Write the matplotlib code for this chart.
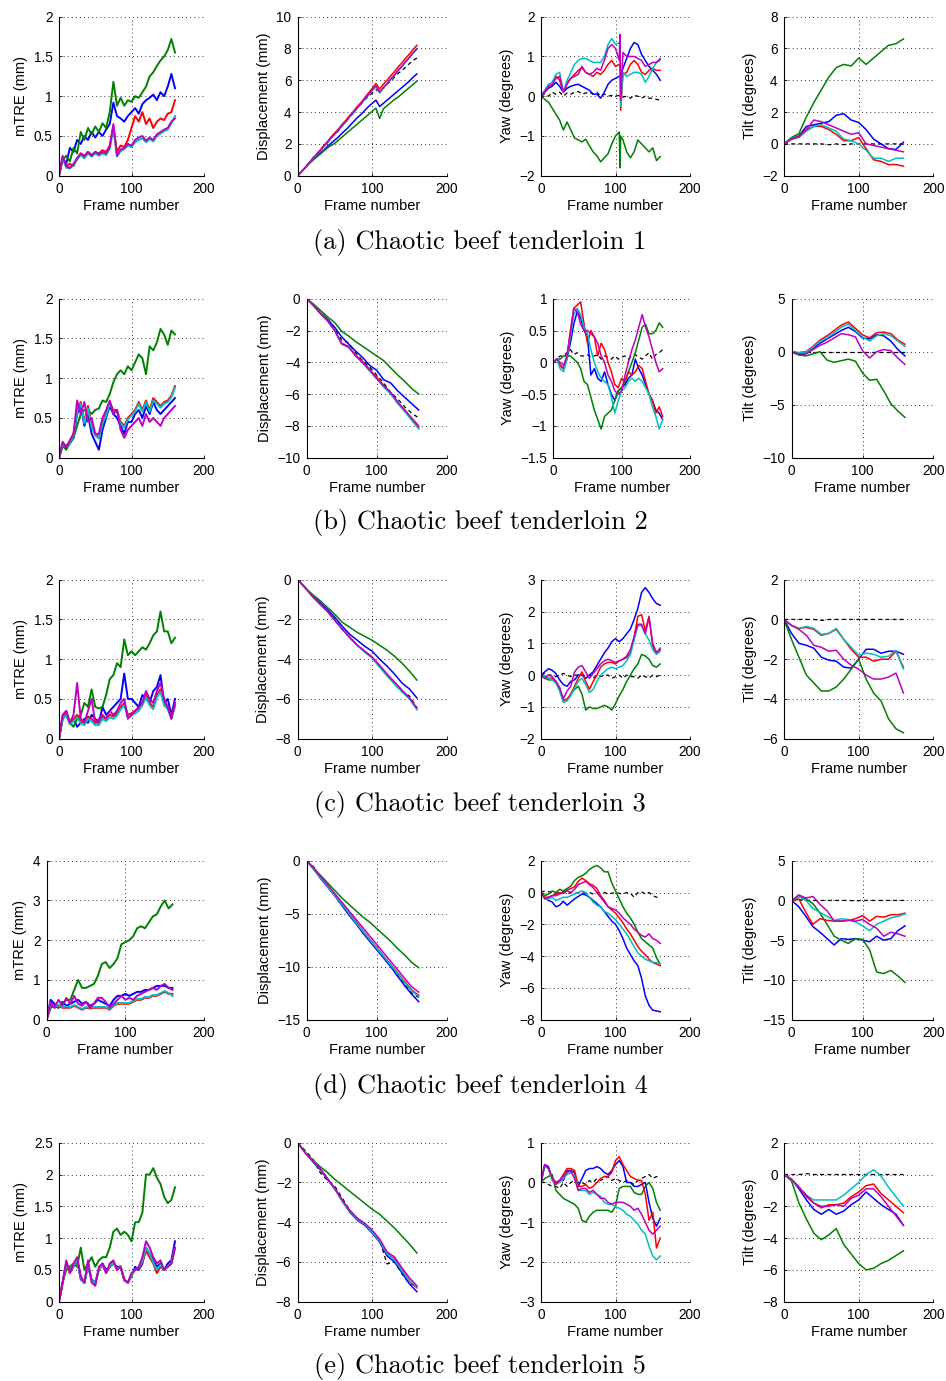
import matplotlib
matplotlib.use("Agg")
import matplotlib.pyplot as plt
from matplotlib.ticker import FuncFormatter, MultipleLocator

# ---------------------------------------------------------------- data
# Each series is sampled every 5 frames (33 values) or every 10 frames
# (17 values) over frames 0..160, unless a panel gives its own frame list.
# Keys: k = reference (dashed), b, g, r, c, m = the five trackers.

# ----- (a) tenderloin 1
MTRE_A = {
    "b": [0.0, 0.22, 0.15, 0.35, 0.30, 0.45, 0.40, 0.50, 0.45, 0.55, 0.48, 0.55, 0.50, 0.58, 0.65, 0.92, 0.75,
          0.72, 0.68, 0.75, 0.80, 0.85, 0.78, 0.90, 0.95, 0.98, 1.02, 0.95, 1.05, 1.00, 1.12, 1.28, 1.10],
    "g": [0.0, 0.20, 0.25, 0.18, 0.35, 0.28, 0.55, 0.45, 0.60, 0.52, 0.62, 0.55, 0.66, 0.60, 0.80, 1.18, 0.88,
          0.98, 0.88, 0.95, 0.93, 1.00, 0.98, 1.05, 1.12, 1.25, 1.30, 1.38, 1.45, 1.50, 1.58, 1.72, 1.55],
    "r": [0.0, 0.22, 0.12, 0.15, 0.12, 0.22, 0.28, 0.25, 0.30, 0.26, 0.30, 0.28, 0.32, 0.30, 0.38, 0.62, 0.30,
          0.38, 0.36, 0.45, 0.60, 0.75, 0.68, 0.80, 0.65, 0.72, 0.60, 0.68, 0.72, 0.70, 0.78, 0.80, 0.95],
    "c": [0.0, 0.23, 0.10, 0.09, 0.13, 0.20, 0.26, 0.22, 0.28, 0.24, 0.28, 0.25, 0.28, 0.26, 0.34, 0.60, 0.24,
          0.31, 0.33, 0.38, 0.36, 0.42, 0.45, 0.47, 0.42, 0.46, 0.43, 0.50, 0.53, 0.56, 0.58, 0.66, 0.75],
    "m": [0.0, 0.25, 0.12, 0.10, 0.15, 0.22, 0.28, 0.24, 0.30, 0.25, 0.30, 0.27, 0.30, 0.28, 0.36, 0.65, 0.25,
          0.33, 0.35, 0.40, 0.38, 0.45, 0.48, 0.50, 0.44, 0.48, 0.45, 0.52, 0.55, 0.58, 0.60, 0.68, 0.72],
}
DISP_A = {
    "k": [0, 0.25, 0.55, 0.8, 1.1, 1.35, 1.6, 1.85, 2.1, 2.4, 2.6, 2.85, 3.15, 3.4, 3.7, 3.95, 4.25,
          4.5, 4.75, 5.0, 5.2, 5.4, 5.3, 5.5, 5.75, 5.95, 6.2, 6.45, 6.6, 6.85, 7.05, 7.25, 7.4],
    "b": [0, 0.25, 0.5, 0.75, 1.0, 1.2, 1.4, 1.6, 1.85, 2.05, 2.25, 2.45, 2.7, 2.9, 3.15, 3.4, 3.65,
          3.85, 4.1, 4.35, 4.55, 4.75, 4.35, 4.55, 4.75, 4.95, 5.15, 5.35, 5.55, 5.75, 5.95, 6.2, 6.4],
    "g": [0, 0.25, 0.5, 0.75, 0.95, 1.15, 1.35, 1.55, 1.75, 1.9, 2.05, 2.25, 2.45, 2.65, 2.85, 3.05, 3.25,
          3.45, 3.65, 3.85, 4.05, 4.25, 3.6, 4.2, 4.4, 4.6, 4.8, 4.95, 5.15, 5.35, 5.55, 5.75, 5.95],
    "r": [0, 0.25, 0.5, 0.8, 1.05, 1.35, 1.6, 1.9, 2.15, 2.45, 2.7, 2.95, 3.25, 3.5, 3.8, 4.05, 4.35,
          4.6, 4.9, 5.2, 5.5, 5.8, 5.45, 5.75, 6.0, 6.3, 6.55, 6.85, 7.1, 7.4, 7.65, 7.95, 8.2],
    "c": [0, 0.25, 0.5, 0.78, 1.03, 1.28, 1.53, 1.82, 2.07, 2.37, 2.6, 2.86, 3.15, 3.4, 3.7, 3.95, 4.25,
          4.5, 4.8, 5.05, 5.35, 5.6, 5.2, 5.5, 5.75, 6.05, 6.3, 6.6, 6.85, 7.15, 7.4, 7.7, 7.95],
    "m": [0, 0.25, 0.5, 0.8, 1.05, 1.3, 1.55, 1.85, 2.1, 2.4, 2.65, 2.9, 3.2, 3.45, 3.75, 4.0, 4.3,
          4.55, 4.85, 5.1, 5.4, 5.65, 5.25, 5.55, 5.8, 6.1, 6.35, 6.65, 6.9, 7.2, 7.45, 7.75, 8.0],
}
YAW_A_FRAMES = [0, 5, 10, 15, 20, 25, 30, 35, 40, 45, 50, 55, 60, 65, 70, 75, 80, 85, 90, 95, 100, 105,
                106, 107, 110, 115, 120, 125, 130, 135, 140, 145, 150, 155, 160]
YAW_A = {
    "k": [0, 0.05, 0.0, 0.1, 0.05, 0.1, 0.0, 0.08, 0.05, 0.1, 0.12, 0.05, 0.08, 0.1, 0.05, 0.1, 0.0, 0.05,
          0.0, 0.02, 0.0, 0.02, 0.02, 0.0, -0.02, 0.0, -0.05, 0.02, 0.0, -0.05, 0.0, -0.05, -0.05, -0.08, -0.1],
    "b": [0, 0.1, 0.2, 0.25, 0.35, 0.25, 0.1, 0.2, 0.25, 0.28, 0.3, 0.25, 0.2, 0.15, 0.05, 0.05, -0.05, 0.1,
          0.3, 0.4, 0.45, 0.5, 0.5, 0.5, 0.7, 0.95, 1.2, 1.35, 1.3, 1.05, 0.9, 0.75, 0.65, 0.55, 0.4],
    "g": [0, -0.08, -0.15, -0.3, -0.45, -0.6, -0.85, -0.65, -0.85, -1.05, -1.1, -1.15, -1.08, -1.25, -1.4,
          -1.5, -1.65, -1.55, -1.45, -1.2, -1.0, -0.9, -1.8, -1.0, -1.1, -1.4, -1.55, -1.4, -1.1, -1.2, -1.3,
          -1.4, -1.3, -1.62, -1.52],
    "r": [0, 0.1, 0.25, 0.3, 0.5, 0.4, 0.1, 0.35, 0.45, 0.55, 0.65, 0.72, 0.6, 0.55, 0.5, 0.6, 0.55, 0.65,
          0.8, 0.9, 0.75, 0.8, 0.8, -0.35, 0.55, 0.6, 0.8, 0.9, 0.8, 0.6, 0.55, 0.65, 0.7, 0.65, 0.65],
    "c": [0, 0.15, 0.3, 0.35, 0.55, 0.6, 0.1, 0.4, 0.6, 0.8, 0.9, 0.95, 0.95, 0.9, 0.85, 0.85, 0.85, 1.0,
          1.3, 1.45, 1.3, 1.35, 1.35, -0.25, 0.6, 0.5, 0.55, 0.6, 0.6, 0.55, 0.35, 0.5, 0.7, 0.85, 0.9],
    "m": [0, 0.12, 0.25, 0.3, 0.45, 0.5, 0.1, 0.3, 0.45, 0.5, 0.55, 0.75, 0.6, 0.55, 0.6, 0.7, 0.65, 0.9,
          1.2, 1.3, 1.2, 0.9, 1.55, -0.1, 1.1, 1.0, 1.0, 1.0, 0.95, 0.9, 0.75, 0.8, 0.85, 0.85, 0.95],
}
TILT_A = {
    "k": [0, 0, 0, 0, 0, 0, -0.05, 0, -0.05, 0, 0, 0, 0, 0, 0, 0, 0],
    "b": [0, 0.3, 0.5, 1.1, 1.2, 1.3, 1.4, 1.8, 1.9, 1.5, 1.35, 0.9, 0.3, 0.0, -0.3, -0.35, 0.1],
    "g": [0, 0.4, 0.65, 1.7, 2.6, 3.4, 4.2, 4.8, 5.0, 4.9, 5.4, 5.0, 5.4, 5.8, 6.2, 6.3, 6.6],
    "r": [0, 0.3, 0.5, 0.9, 1.1, 1.1, 0.9, 0.6, 0.2, 0.2, 0.4, -0.3, -1.0, -1.1, -1.3, -1.3, -1.4],
    "c": [0, 0.3, 0.4, 0.8, 1.1, 1.2, 1.0, 0.8, 0.3, 0.2, 0.0, -0.4, -0.9, -0.9, -1.1, -0.9, -0.9],
    "m": [0, 0.3, 0.45, 0.9, 1.5, 1.4, 1.2, 1.0, 0.8, 0.6, 0.7, 0.0, -0.1, -0.2, -0.3, -0.4, -0.5],
}

# ----- (b) tenderloin 2
MTRE_B = {
    "b": [0, 0.15, 0.12, 0.18, 0.25, 0.55, 0.65, 0.4, 0.55, 0.3, 0.2, 0.1, 0.35, 0.5, 0.65, 0.55, 0.5,
          0.4, 0.3, 0.45, 0.45, 0.55, 0.6, 0.5, 0.65, 0.55, 0.7, 0.6, 0.55, 0.6, 0.65, 0.7, 0.75],
    "g": [0, 0.15, 0.1, 0.2, 0.25, 0.4, 0.55, 0.6, 0.6, 0.55, 0.6, 0.62, 0.72, 0.7, 0.8, 0.95, 1.05,
          1.1, 1.05, 1.15, 1.1, 1.2, 1.3, 1.25, 1.05, 1.4, 1.35, 1.45, 1.62, 1.55, 1.42, 1.6, 1.55],
    "r": [0, 0.18, 0.15, 0.2, 0.3, 0.6, 0.7, 0.45, 0.65, 0.4, 0.3, 0.25, 0.45, 0.55, 0.7, 0.6, 0.6,
          0.45, 0.4, 0.5, 0.55, 0.6, 0.7, 0.6, 0.72, 0.6, 0.75, 0.7, 0.65, 0.7, 0.72, 0.78, 0.9],
    "c": [0, 0.17, 0.14, 0.19, 0.28, 0.58, 0.68, 0.43, 0.62, 0.38, 0.28, 0.24, 0.43, 0.53, 0.68, 0.58, 0.58,
          0.43, 0.38, 0.48, 0.53, 0.58, 0.68, 0.58, 0.7, 0.58, 0.72, 0.68, 0.63, 0.68, 0.7, 0.76, 0.88],
    "m": [0, 0.2, 0.13, 0.22, 0.3, 0.72, 0.55, 0.7, 0.45, 0.5, 0.3, 0.3, 0.5, 0.6, 0.72, 0.55, 0.6,
          0.35, 0.25, 0.35, 0.4, 0.45, 0.5, 0.4, 0.55, 0.45, 0.5, 0.45, 0.4, 0.5, 0.55, 0.6, 0.65],
}
DISP_B = {
    "k": [0, -0.4, -0.9, -1.3, -1.9, -2.6, -2.8, -3.4, -3.9, -4.3, -4.8, -5.3, -5.9, -6.3, -6.8, -7.2, -7.5],
    "b": [0, -0.4, -0.9, -1.3, -1.8, -2.4, -2.85, -3.3, -3.7, -4.2, -4.5, -5.1, -5.3, -5.8, -6.2, -6.6, -7.0],
    "g": [0, -0.35, -0.75, -1.15, -1.5, -2.05, -2.35, -2.7, -3.0, -3.3, -3.6, -3.9, -4.35, -4.8, -5.2, -5.65, -6.0],
    "r": [0, -0.45, -0.95, -1.4, -2.0, -2.8, -3.0, -3.55, -3.95, -4.45, -4.95, -5.45, -5.9, -6.5, -7.0, -7.55, -8.1],
    "c": [0, -0.45, -0.95, -1.4, -2.0, -2.85, -3.05, -3.6, -4.05, -4.55, -5.05, -5.55, -6.0, -6.6, -7.1, -7.65, -8.2],
    "m": [0, -0.45, -0.95, -1.4, -2.0, -2.85, -3.05, -3.6, -4.0, -4.5, -5.0, -5.5, -5.9, -6.5, -7.0, -7.5, -8.0],
}
YAW_B = {
    "k": [0, 0.05, 0.1, 0.1, 0.15, 0.2, 0.12, 0.15, 0.1, 0.1, 0.12, 0.08, 0.1, 0.12, 0.05, 0.1, 0.08,
          0.05, 0.1, 0.05, 0.08, 0.1, 0.05, 0.1, 0.12, 0.08, 0.05, 0.1, 0.15, 0.05, 0.12, 0.15, 0.2],
    "b": [0, 0.05, -0.05, -0.1, 0.05, 0.3, 0.6, 0.8, 0.7, 0.5, 0.4, -0.2, -0.1, -0.25, -0.3, -0.15, -0.35,
          -0.5, -0.6, -0.45, -0.4, -0.35, -0.25, -0.2, 0.05, -0.1, -0.2, -0.35, -0.5, -0.6, -0.75, -0.8, -0.9],
    "g": [0, 0.05, 0.05, 0.1, 0.1, 0.1, 0.05, 0.0, -0.1, -0.3, -0.35, -0.55, -0.75, -0.9, -1.05, -0.85, -0.8,
          -0.75, -0.6, -0.45, -0.4, -0.3, -0.15, 0.0, 0.15, 0.35, 0.55, 0.6, 0.45, 0.45, 0.5, 0.62, 0.55],
    "r": [0, 0.05, -0.05, -0.1, 0.1, 0.5, 0.85, 0.9, 0.95, 0.6, 0.3, 0.5, 0.4, 0.1, 0.3, 0.2, 0.0,
          -0.15, -0.35, -0.4, -0.25, -0.3, -0.15, -0.2, -0.15, -0.05, -0.1, -0.3, -0.5, -0.6, -0.8, -0.7, -0.85],
    "c": [0, 0.05, -0.1, -0.15, 0.05, 0.4, 0.75, 0.85, 0.75, 0.55, 0.45, 0.2, 0.0, -0.15, -0.25, -0.3, -0.35,
          -0.55, -0.8, -0.6, -0.45, -0.4, -0.3, -0.25, -0.3, -0.25, -0.3, -0.4, -0.5, -0.7, -0.85, -1.05, -0.9],
    "m": [0, 0.05, 0.0, -0.05, 0.1, 0.45, 0.85, 0.8, 0.6, 0.5, 0.5, 0.45, 0.4, 0.3, 0.1, 0.0, -0.2,
          -0.3, -0.45, -0.5, -0.45, -0.2, 0.0, 0.2, 0.35, 0.55, 0.75, 0.55, 0.4, 0.2, 0.0, -0.15, -0.1],
}
TILT_B = {
    "k": [0, 0, 0, 0, 0, 0, 0, 0, 0, 0, 0, 0, 0, 0, 0, 0, 0],
    "b": [0, -0.3, -0.2, 0.3, 0.8, 1.2, 1.6, 2.0, 2.3, 1.9, 1.3, 1.2, 1.6, 1.5, 1.0, 0.2, -0.4],
    "g": [0, -0.3, -0.4, -0.2, 0.0, -0.8, -1.0, -0.85, -0.7, -0.9, -2.0, -2.7, -2.6, -3.7, -4.9, -5.6, -6.2],
    "r": [0, -0.1, 0.0, 0.5, 1.1, 1.5, 2.0, 2.5, 2.8, 2.2, 1.6, 1.3, 1.8, 1.85, 1.7, 1.1, 0.7],
    "c": [0, -0.1, -0.05, 0.4, 1.0, 1.3, 1.8, 2.3, 2.6, 2.0, 1.4, 1.0, 1.5, 1.7, 1.5, 1.0, 0.5],
    "m": [0, -0.2, -0.2, 0.2, 0.6, 0.9, 1.3, 1.7, 1.6, 1.4, 0.1, -0.6, 0.0, 0.2, 0.1, -0.6, -1.2],
}

# ----- (c) tenderloin 3
MTRE_C = {
    "b": [0, 0.25, 0.3, 0.2, 0.25, 0.15, 0.2, 0.25, 0.2, 0.3, 0.25, 0.2, 0.4, 0.3, 0.35, 0.4, 0.45,
          0.5, 0.82, 0.5, 0.5, 0.45, 0.4, 0.55, 0.5, 0.45, 0.6, 0.65, 0.8, 0.45, 0.5, 0.3, 0.5],
    "g": [0, 0.25, 0.35, 0.2, 0.15, 0.25, 0.3, 0.45, 0.4, 0.62, 0.4, 0.38, 0.4, 0.55, 0.75, 0.8, 0.95,
          0.9, 1.25, 1.05, 1.1, 1.05, 1.1, 1.15, 1.12, 1.2, 1.3, 1.35, 1.6, 1.35, 1.35, 1.2, 1.27],
    "r": [0, 0.28, 0.32, 0.2, 0.25, 0.3, 0.22, 0.2, 0.28, 0.25, 0.2, 0.2, 0.28, 0.25, 0.3, 0.28, 0.32,
          0.4, 0.45, 0.3, 0.32, 0.35, 0.38, 0.45, 0.55, 0.45, 0.4, 0.55, 0.62, 0.45, 0.4, 0.28, 0.42],
    "c": [0, 0.26, 0.3, 0.18, 0.22, 0.27, 0.19, 0.17, 0.25, 0.22, 0.17, 0.17, 0.25, 0.22, 0.27, 0.25, 0.29,
          0.37, 0.42, 0.27, 0.29, 0.32, 0.35, 0.42, 0.52, 0.42, 0.37, 0.52, 0.59, 0.42, 0.37, 0.25, 0.4],
    "m": [0, 0.3, 0.35, 0.2, 0.3, 0.7, 0.25, 0.2, 0.35, 0.5, 0.2, 0.25, 0.3, 0.25, 0.35, 0.3, 0.35,
          0.45, 0.5, 0.25, 0.3, 0.35, 0.4, 0.45, 0.6, 0.5, 0.45, 0.6, 0.7, 0.5, 0.4, 0.25, 0.45],
}
DISP_C = {
    "k": [0, -0.4, -0.85, -1.2, -1.55, -2.0, -2.5, -2.9, -3.3, -3.6, -3.95, -4.4, -4.8, -5.25, -5.65, -5.85, -6.45],
    "b": [0, -0.4, -0.8, -1.15, -1.5, -1.9, -2.35, -2.75, -3.05, -3.35, -3.6, -4.0, -4.35, -4.75, -5.2, -5.5, -5.95],
    "g": [0, -0.4, -0.75, -1.05, -1.4, -1.75, -2.15, -2.4, -2.65, -2.85, -3.05, -3.3, -3.55, -3.85, -4.2, -4.6, -5.05],
    "r": [0, -0.4, -0.85, -1.25, -1.6, -2.05, -2.5, -2.9, -3.3, -3.6, -3.9, -4.35, -4.8, -5.2, -5.6, -5.95, -6.5],
    "c": [0, -0.4, -0.85, -1.25, -1.6, -2.05, -2.5, -2.95, -3.3, -3.65, -3.95, -4.4, -4.85, -5.25, -5.65, -6.0, -6.55],
    "m": [0, -0.4, -0.85, -1.2, -1.6, -2.05, -2.5, -2.9, -3.3, -3.6, -3.9, -4.3, -4.75, -5.15, -5.55, -5.95, -6.45],
}
YAW_C = {
    "k": [0, 0.05, 0.0, 0.0, -0.05, 0.0, 0.05, 0.0, -0.05, 0.0, 0.0, 0.05, -0.05, 0.0, -0.1, 0.0, -0.05,
          0.0, 0.0, -0.1, -0.05, 0.0, -0.1, 0.0, -0.05, -0.05, -0.1, 0.0, -0.05, -0.1, 0.0, -0.05, 0.0],
    "b": [0, 0.1, 0.2, 0.15, 0.05, -0.15, -0.3, -0.35, -0.2, -0.15, 0.0, 0.0, -0.1, 0.0, 0.1, 0.3, 0.5,
          0.7, 0.85, 1.05, 1.15, 1.05, 1.15, 1.3, 1.45, 1.75, 2.1, 2.6, 2.75, 2.6, 2.4, 2.25, 2.2],
    "g": [0, -0.1, -0.15, -0.15, -0.2, -0.4, -0.85, -0.8, -0.6, -0.45, -0.35, -0.6, -1.1, -1.0, -1.05, -1.05,
          -1.0, -0.95, -1.0, -1.1, -0.9, -0.65, -0.45, -0.2, 0.0, 0.2, 0.35, 0.65, 0.6, 0.5, 0.3, 0.25, 0.35],
    "r": [0, -0.05, -0.1, -0.1, -0.2, -0.45, -0.8, -0.75, -0.6, -0.35, -0.1, 0.1, -0.2, -0.45, -0.2, 0.0,
          0.25, 0.35, 0.4, 0.4, 0.35, 0.45, 0.5, 0.55, 0.7, 1.2, 1.85, 1.9, 1.4, 1.85, 0.9, 0.7, 0.8],
    "c": [0, -0.05, -0.1, -0.15, -0.25, -0.5, -0.85, -0.8, -0.65, -0.4, -0.2, -0.1, -0.3, -0.55, -0.45, -0.2,
          0.0, 0.1, 0.2, 0.25, 0.2, 0.25, 0.3, 0.45, 0.65, 1.1, 1.55, 1.55, 1.3, 1.1, 0.8, 0.65, 0.75],
    "m": [0, -0.1, 0.0, -0.05, -0.2, -0.4, -0.75, -0.5, -0.35, 0.1, 0.25, 0.3, 0.1, -0.1, 0.05, 0.2, 0.35,
          0.45, 0.5, 0.45, 0.4, 0.45, 0.5, 0.6, 0.8, 1.2, 1.6, 1.6, 1.3, 1.8, 1.0, 0.7, 0.85],
}
TILT_C = {
    "k": [0, 0, 0, 0, 0, -0.05, 0, 0, 0, 0, 0, 0, 0, 0, 0, 0, 0],
    "b": [0, -0.7, -1.2, -1.3, -1.45, -1.9, -2.05, -2.1, -2.4, -2.45, -2.0, -1.5, -1.5, -1.7, -1.6, -1.6, -1.75],
    "g": [0, -1.0, -1.9, -2.8, -3.2, -3.6, -3.6, -3.4, -3.0, -2.5, -2.0, -3.0, -3.7, -4.1, -5.0, -5.5, -5.7],
    "r": [0, -0.3, -0.45, -0.4, -0.5, -0.8, -0.7, -0.5, -1.0, -1.5, -1.9, -1.9, -2.1, -2.0, -2.0, -1.6, -2.4],
    "c": [0, -0.3, -0.45, -0.35, -0.45, -0.75, -0.7, -0.45, -1.0, -1.4, -1.8, -1.7, -1.75, -1.9, -1.85, -1.55, -2.5],
    "m": [0, -0.3, -0.5, -0.8, -1.3, -1.4, -1.6, -1.55, -2.0, -2.3, -2.5, -2.8, -3.0, -3.0, -2.9, -2.7, -3.7],
}

# ----- (d) tenderloin 4
MTRE_D = {
    "b": [0, 0.5, 0.4, 0.3, 0.45, 0.35, 0.4, 0.45, 0.5, 0.4, 0.45, 0.35, 0.4, 0.5, 0.45, 0.4, 0.35,
          0.5, 0.6, 0.6, 0.65, 0.6, 0.65, 0.7, 0.7, 0.75, 0.75, 0.8, 0.85, 0.85, 0.85, 0.8, 0.8],
    "g": [0, 0.3, 0.35, 0.3, 0.4, 0.5, 0.5, 0.75, 1.0, 0.8, 0.8, 0.85, 0.9, 1.1, 1.4, 1.45, 1.3,
          1.4, 1.55, 1.9, 1.95, 2.0, 2.1, 2.3, 2.35, 2.3, 2.45, 2.6, 2.65, 2.85, 3.0, 2.8, 2.9],
    "r": [0, 0.4, 0.3, 0.35, 0.3, 0.3, 0.3, 0.35, 0.3, 0.25, 0.3, 0.28, 0.3, 0.3, 0.3, 0.3, 0.25,
          0.35, 0.4, 0.4, 0.4, 0.4, 0.45, 0.5, 0.5, 0.55, 0.55, 0.6, 0.6, 0.65, 0.7, 0.65, 0.65],
    "c": [0, 0.42, 0.32, 0.37, 0.32, 0.33, 0.32, 0.37, 0.32, 0.27, 0.32, 0.3, 0.32, 0.32, 0.32, 0.32, 0.27,
          0.37, 0.42, 0.42, 0.42, 0.42, 0.47, 0.52, 0.52, 0.57, 0.57, 0.62, 0.62, 0.67, 0.72, 0.67, 0.6],
    "m": [0, 0.45, 0.3, 0.5, 0.35, 0.55, 0.4, 0.6, 0.4, 0.35, 0.45, 0.3, 0.4, 0.55, 0.55, 0.45, 0.3,
          0.4, 0.5, 0.6, 0.5, 0.55, 0.5, 0.6, 0.65, 0.7, 0.75, 0.8, 0.75, 0.85, 0.9, 0.8, 0.75],
}
DISP_D = {
    "k": [0, -0.6, -1.6, -2.4, -3.2, -4.1, -5.0, -5.8, -6.7, -7.5, -8.3, -9.1, -9.9, -10.8, -11.6, -12.5, -12.9],
    "b": [0, -0.8, -1.7, -2.5, -3.3, -4.2, -5.1, -5.9, -6.8, -7.6, -8.4, -9.2, -10.0, -10.9, -11.8, -12.6, -13.3],
    "g": [0, -0.7, -1.4, -2.1, -2.8, -3.5, -4.1, -4.7, -5.3, -5.8, -6.4, -7.0, -7.6, -8.3, -8.9, -9.6, -10.1],
    "r": [0, -0.8, -1.6, -2.4, -3.2, -4.0, -4.9, -5.7, -6.6, -7.4, -8.2, -9.0, -9.8, -10.6, -11.4, -12.2, -12.7],
    "c": [0, -0.8, -1.65, -2.45, -3.25, -4.1, -4.95, -5.8, -6.65, -7.45, -8.25, -9.05, -9.85, -10.65, -11.5, -12.3, -12.8],
    "m": [0, -0.7, -1.5, -2.3, -3.1, -3.9, -4.7, -5.5, -6.3, -7.1, -7.9, -8.7, -9.5, -10.3, -11.1, -11.9, -12.4],
}
YAW_D = {
    "k": [0, 0.1, 0.05, 0.0, -0.05, 0.0, 0.05, -0.1, 0.0, -0.05, 0.0, 0.0, -0.05, 0.0, -0.1, 0.0, -0.05,
          0.0, -0.1, -0.05, 0.0, -0.05, -0.1, 0.0, -0.05, -0.3, 0.0, 0.05, -0.1, 0.0, -0.2, -0.3, -0.2],
    "b": [0, -0.3, -0.5, -0.6, -0.9, -0.8, -0.55, -0.8, -0.6, -0.4, -0.25, -0.1, -0.15, -0.3, -0.5, -0.7, -0.9,
          -1.2, -1.5, -1.8, -2.0, -2.4, -2.9, -3.5, -3.9, -4.3, -4.6, -5.4, -6.5, -7.1, -7.4, -7.45, -7.5],
    "g": [0, -0.2, -0.1, 0.1, 0.0, 0.2, 0.1, 0.25, 0.4, 0.75, 0.95, 1.05, 1.2, 1.45, 1.6, 1.7, 1.55,
          1.3, 1.3, 0.6, 0.1, -0.4, -0.9, -1.3, -1.6, -2.0, -2.5, -2.9, -3.1, -3.3, -3.5, -4.1, -4.5],
    "r": [0, -0.3, -0.3, -0.2, -0.1, 0.0, -0.05, 0.15, 0.25, 0.35, 0.7, 0.9, 0.75, 0.55, 0.45, 0.25, -0.2,
          -0.5, -0.9, -1.1, -1.3, -1.6, -1.9, -2.3, -2.6, -3.0, -3.4, -3.7, -3.9, -4.2, -4.4, -4.5, -4.6],
    "c": [0, -0.4, -0.4, -0.3, -0.5, -0.4, -0.3, -0.3, -0.2, -0.1, 0.0, 0.1, 0.0, -0.3, -0.6, -0.8, -0.9,
          -1.2, -1.3, -1.5, -1.7, -2.0, -2.3, -2.6, -3.0, -3.4, -3.8, -4.0, -4.2, -4.3, -4.4, -4.4, -4.5],
    "m": [0, -0.4, -0.3, -0.2, -0.2, -0.1, 0.0, 0.1, 0.0, 0.2, 0.5, 0.6, 0.7, 0.5, 0.3, 0.0, -0.3,
          -0.6, -0.9, -1.0, -1.1, -1.3, -1.6, -1.8, -2.0, -2.3, -2.5, -2.7, -2.8, -2.6, -2.9, -3.0, -3.2],
}
TILT_D = {
    "k": [0, 0.1, 0.0, 0.0, 0.0, 0.0, 0.0, 0.0, 0.0, -0.05, 0.0, 0.0, 0.0, 0.0, 0.0, 0.0, 0.0],
    "b": [0, -0.8, -2.0, -3.3, -4.0, -4.8, -5.6, -4.8, -4.9, -4.8, -5.0, -5.2, -4.5, -5.0, -4.8, -3.8, -3.2],
    "g": [0, 0.5, 0.2, -0.4, -1.6, -3.0, -4.5, -5.0, -5.4, -4.8, -4.9, -6.2, -9.0, -9.2, -8.8, -9.5, -10.3],
    "r": [0, 0.2, -1.5, -3.0, -2.3, -2.5, -2.6, -2.6, -2.5, -2.3, -1.9, -2.6, -2.0, -2.1, -1.8, -1.8, -1.6],
    "c": [0, 0.5, 0.0, -1.0, -1.5, -2.0, -2.5, -2.3, -2.4, -2.7, -3.2, -3.8, -3.0, -2.6, -2.2, -2.0, -1.7],
    "m": [0, 0.7, 0.3, 0.5, -0.5, -1.3, -2.6, -2.6, -2.5, -2.6, -2.4, -3.0, -3.5, -4.5, -4.0, -4.2, -4.5],
}

# ----- (e) tenderloin 5
MTRE_E = {
    "b": [0, 0.3, 0.6, 0.5, 0.55, 0.65, 0.35, 0.3, 0.55, 0.35, 0.3, 0.5, 0.6, 0.5, 0.55, 0.6, 0.55,
          0.55, 0.35, 0.3, 0.4, 0.55, 0.5, 0.6, 0.85, 0.75, 0.65, 0.55, 0.6, 0.5, 0.6, 0.65, 0.95],
    "g": [0, 0.3, 0.5, 0.55, 0.6, 0.55, 0.85, 0.5, 0.6, 0.7, 0.55, 0.65, 0.7, 0.7, 0.85, 1.1, 1.15,
          1.05, 1.1, 1.05, 0.95, 1.25, 1.25, 1.4, 2.0, 2.0, 2.1, 1.95, 1.85, 1.65, 1.55, 1.6, 1.8],
    "r": [0, 0.3, 0.6, 0.45, 0.55, 0.68, 0.38, 0.3, 0.6, 0.33, 0.28, 0.5, 0.58, 0.45, 0.55, 0.62, 0.5,
          0.55, 0.33, 0.3, 0.42, 0.5, 0.52, 0.62, 0.8, 0.7, 0.6, 0.45, 0.55, 0.5, 0.55, 0.6, 0.85],
    "c": [0, 0.3, 0.6, 0.47, 0.56, 0.67, 0.37, 0.29, 0.58, 0.34, 0.29, 0.51, 0.59, 0.46, 0.56, 0.61, 0.51,
          0.56, 0.34, 0.29, 0.42, 0.51, 0.54, 0.64, 0.85, 0.75, 0.62, 0.5, 0.58, 0.5, 0.56, 0.6, 0.85],
    "m": [0, 0.3, 0.65, 0.45, 0.6, 0.7, 0.4, 0.3, 0.65, 0.3, 0.25, 0.55, 0.6, 0.45, 0.6, 0.65, 0.5,
          0.55, 0.35, 0.3, 0.45, 0.5, 0.55, 0.7, 0.95, 0.85, 0.7, 0.6, 0.65, 0.5, 0.55, 0.6, 0.85],
}
DISP_E = {
    "k": [0, -0.4, -0.8, -1.5, -1.9, -2.2, -2.8, -3.4, -3.8, -4.1, -4.5, -4.9, -6.1, -6.0, -6.6, -7.1, -7.2],
    "b": [0, -0.5, -0.95, -1.35, -1.85, -2.35, -2.95, -3.5, -3.9, -4.15, -4.55, -5.0, -5.7, -6.0, -6.55, -7.1, -7.5],
    "g": [0, -0.5, -0.85, -1.2, -1.5, -1.85, -2.15, -2.45, -2.75, -3.05, -3.35, -3.6, -3.95, -4.3, -4.7, -5.1, -5.55],
    "r": [0, -0.5, -0.9, -1.3, -1.8, -2.3, -2.9, -3.45, -3.85, -4.1, -4.5, -4.9, -5.6, -5.85, -6.4, -6.95, -7.3],
    "c": [0, -0.5, -0.9, -1.3, -1.8, -2.35, -2.95, -3.45, -3.85, -4.1, -4.5, -4.95, -5.6, -5.9, -6.45, -6.95, -7.25],
    "m": [0, -0.5, -0.9, -1.3, -1.8, -2.3, -2.9, -3.4, -3.8, -4.05, -4.4, -4.85, -5.5, -5.75, -6.3, -6.8, -7.2],
}
YAW_E = {
    "k": [0, 0.0, -0.05, -0.1, -0.1, -0.15, 0.0, -0.1, 0.0, 0.05, 0.0, 0.0, -0.05, 0.05, 0.0, 0.1, 0.05,
          0.1, 0.15, 0.05, 0.1, 0.05, 0.0, 0.05, 0.0, -0.05, 0.05, 0.1, 0.15, 0.2, 0.1, 0.15, 0.1],
    "b": [0, 0.45, 0.4, 0.1, 0.0, 0.05, 0.05, 0.3, 0.3, 0.25, -0.1, 0.1, 0.3, 0.35, 0.35, 0.4, 0.35,
          0.25, 0.2, 0.3, 0.45, 0.55, 0.4, 0.0, 0.0, -0.1, -0.1, -0.05, 0.0, -0.5, -0.9, -1.1, -0.9],
    "g": [0, 0.1, 0.15, 0.2, -0.2, -0.3, -0.4, -0.45, -0.5, -0.55, -0.65, -0.95, -1.0, -0.85, -0.75, -0.7, -0.7,
          -0.7, -0.7, -0.75, -0.6, -0.15, -0.1, -0.1, -0.1, -0.25, -0.3, -0.3, -0.1, 0.0, -0.15, -0.5, -0.7],
    "r": [0, 0.45, 0.35, 0.1, 0.0, 0.05, 0.2, 0.35, 0.35, 0.3, -0.1, -0.1, -0.05, -0.15, -0.1, 0.0, 0.1,
          0.15, 0.15, 0.25, 0.55, 0.65, 0.45, 0.3, 0.15, 0.1, 0.05, 0.05, -0.3, -0.95, -0.75, -1.65, -1.4],
    "c": [0, 0.4, 0.35, 0.05, -0.05, 0.0, 0.1, 0.2, 0.25, 0.15, -0.2, -0.2, -0.2, -0.3, -0.25, -0.3, -0.35,
          -0.5, -0.55, -0.55, -0.6, -0.65, -0.7, -0.8, -0.85, -0.95, -1.05, -1.2, -1.3, -1.6, -1.85, -1.95, -1.85],
    "m": [0, 0.45, 0.35, 0.1, -0.05, 0.05, 0.15, 0.25, 0.3, 0.1, -0.2, -0.15, -0.15, -0.25, -0.2, -0.3, -0.4,
          -0.4, -0.5, -0.55, -0.5, -0.5, -0.5, -0.55, -0.6, -0.7, -0.65, -0.8, -1.0, -1.2, -1.3, -1.2, -1.1],
}
TILT_E = {
    "k": [0, 0, 0, 0.05, 0, 0, 0, 0, 0, 0, 0, 0, 0, 0, 0, 0, 0],
    "b": [0, -0.3, -0.9, -1.6, -2.2, -2.5, -2.2, -2.5, -2.3, -1.9, -1.6, -1.1, -1.5, -1.9, -2.2, -2.5, -3.2],
    "g": [0, -0.4, -1.8, -2.8, -3.7, -4.1, -3.8, -3.4, -4.4, -5.0, -5.6, -6.0, -5.9, -5.6, -5.4, -5.1, -4.8],
    "r": [0, -0.3, -0.8, -1.4, -1.8, -2.1, -1.9, -1.9, -1.8, -1.4, -1.1, -0.7, -0.6, -1.2, -1.6, -2.0, -2.4],
    "c": [0, -0.3, -0.8, -1.3, -1.6, -1.6, -1.6, -1.6, -1.3, -0.9, -0.5, 0.0, 0.3, -0.1, -0.8, -1.4, -2.0],
    "m": [0, -0.3, -0.8, -1.3, -1.8, -2.0, -2.0, -1.9, -2.0, -1.5, -1.3, -0.9, -0.9, -1.4, -2.0, -2.6, -3.2],
}

CAPTIONS = ["(a) Chaotic beef tenderloin 1", "(b) Chaotic beef tenderloin 2",
            "(c) Chaotic beef tenderloin 3", "(d) Chaotic beef tenderloin 4",
            "(e) Chaotic beef tenderloin 5"]
Y_LABELS = ["mTRE (mm)", "Displacement (mm)", "Yaw (degrees)", "Tilt (degrees)"]
X_LABEL = "Frame number"

# (data, explicit frames, y-limits, y-tick step) for every panel, row by row
ROWS = [
    [(MTRE_A, None, (0, 2), 0.5), (DISP_A, None, (0, 10), 2),
     (YAW_A, YAW_A_FRAMES, (-2, 2), 1), (TILT_A, None, (-2, 8), 2)],
    [(MTRE_B, None, (0, 2), 0.5), (DISP_B, None, (-10, 0), 2),
     (YAW_B, None, (-1.5, 1), 0.5), (TILT_B, None, (-10, 5), 5)],
    [(MTRE_C, None, (0, 2), 0.5), (DISP_C, None, (-8, 0), 2),
     (YAW_C, None, (-2, 3), 1), (TILT_C, None, (-6, 2), 2)],
    [(MTRE_D, None, (0, 4), 1), (DISP_D, None, (-15, 0), 5),
     (YAW_D, None, (-8, 2), 2), (TILT_D, None, (-15, 5), 5)],
    [(MTRE_E, None, (0, 2.5), 0.5), (DISP_E, None, (-8, 0), 2),
     (YAW_E, None, (-3, 1), 1), (TILT_E, None, (-8, 2), 2)],
]

# ---------------------------------------------------------------- style
COLORS = {"k": "black", "b": "#0000ff", "g": "#008000", "r": "#ff0000",
          "c": "#00bfbf", "m": "#bf00bf"}
DRAW_ORDER = ["k", "b", "g", "r", "c", "m"]

plt.rcParams["font.family"] = ["Liberation Sans", "DejaVu Sans"]
plt.rcParams["axes.unicode_minus"] = True

W, H = 946, 1381
fig = plt.figure(figsize=(W / 100, H / 100), dpi=100)

ROW_TOP = [16.7, 298.7, 579.7, 860.7, 1142.7]
AX_H = 159.0
COL_RIGHT = [204.0, 446.7, 690.0, 933.3]
COL_LEFT = [[59.0, 297.7, 541.0, 784.0],
            [59.0, 306.7, 553.3, 791.7],
            [59.0, 297.7, 541.0, 784.0],
            [46.7, 306.7, 541.0, 791.7],
            [59.0, 297.7, 541.0, 784.0]]
CAPTION_Y = [242, 523, 805, 1086, 1367]


def frames_for(values, frames=None):
    if frames is not None:
        return frames
    step = 160 // (len(values) - 1)
    return list(range(0, 161, step))


def tick_text(v, _pos):
    s = "%g" % round(v, 6)
    return s.replace("-", "\u2212")


for ri, row in enumerate(ROWS):
    for ci, (data, frames, ylim, ystep) in enumerate(row):
        left = COL_LEFT[ri][ci]
        right = COL_RIGHT[ci]
        top = ROW_TOP[ri]
        ax = fig.add_axes([left / W, 1 - (top + AX_H) / H, (right - left) / W, AX_H / H])
        lw = 1.4 if ci == 0 else 1.1
        for key in DRAW_ORDER:
            if key not in data:
                continue
            vals = data[key]
            x = frames_for(vals, frames)
            if key == "k":
                ax.plot(x, vals, color="black", lw=0.9, ls=(0, (3.2, 2.6)))
            else:
                ax.plot(x, vals, color=COLORS[key], lw=lw)
        ax.set_xlim(0, 200)
        ax.set_ylim(*ylim)
        ax.xaxis.set_major_locator(MultipleLocator(100))
        ax.yaxis.set_major_locator(MultipleLocator(ystep))
        ax.yaxis.set_major_formatter(FuncFormatter(tick_text))
        ax.xaxis.set_major_formatter(FuncFormatter(tick_text))
        ax.grid(True, ls=(0, (1, 3.2)), color="0.2", lw=0.7)
        ax.set_axisbelow(True)
        for side in ("top", "right"):
            ax.spines[side].set_visible(False)
        for side in ("left", "bottom"):
            ax.spines[side].set_linewidth(0.8)
        ax.tick_params(direction="in", length=2.5, width=0.6, labelsize=9.8, pad=4.5)
        ax.set_xlabel(X_LABEL, fontsize=10.5, labelpad=2)
        ax.set_ylabel(Y_LABELS[ci], fontsize=10.5, labelpad=4)

    fig.text(480 / W, 1 - CAPTION_Y[ri] / H, CAPTIONS[ri], ha="center", va="center",
             family="cmr10", fontsize=19)

fig.savefig("out.png", dpi=100)
